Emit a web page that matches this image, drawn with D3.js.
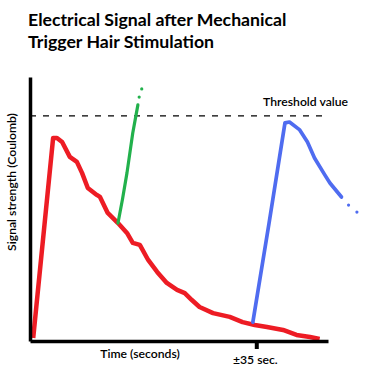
<!DOCTYPE html>
<html>
<head>
<meta charset="utf-8">
<script src="https://cdn.jsdelivr.net/npm/d3@7"></script>
<style>
  body { margin: 0; background: #fff; }
  text { font-family: Lato, "Open Sans", sans-serif; fill: #000; }
</style>
</head>
<body>
<div class="container"></div>
<script>
// signal readings, time in seconds, signal in arbitrary units (threshold = 100)
var redTime   = [0.5, 3.6, 4.2, 5.0, 6.2, 7.3, 8.1, 9.0, 10.4, 10.9, 12.1, 13.7, 15.1, 16.0, 17.1, 18.4, 19.8, 21.3, 22.9, 24.1, 25.2, 26.4, 28.5, 31.1, 33.1, 35.0, 36.9, 39.4, 41.5, 43.6, 45.1];
var redSignal = [1.3, 90.2, 90.2, 88.4, 81.8, 79.6, 74.7, 68.0, 64.9, 64.0, 56.9, 52.4, 48.0, 43.6, 42.7, 36.0, 30.7, 25.8, 22.7, 21.3, 18.2, 15.1, 12.4, 10.7, 8.4, 7.1, 6.2, 4.9, 2.7, 1.8, 0.9];

var greenTime   = [13.7, 14.4, 15.1, 16.0, 16.8];
var greenSignal = [52.4, 63.0, 74.7, 92.4, 104.9];
var greenDotTime   = [17.0, 17.4];
var greenDotSignal = [108.4, 112.0];

var blueTime   = [34.7, 37.2, 39.7, 40.4, 42.0, 43.2, 44.3, 45.9, 46.7, 48.5];
var blueSignal = [8.4, 52.0, 96.9, 97.3, 93.8, 88.4, 81.3, 73.8, 70.2, 64.0];
var blueDotTime   = [49.6, 50.9];
var blueDotSignal = [60.4, 57.3];

var threshold = 100;
var tickTimes = [35];
var tickLabels = ["\u00b135 sec."];

var w = 386;
var h = 387;

var svg = d3.select(".container")
    .append("svg")
    .attr("width", w)
    .attr("height", h);

var x = d3.scaleLinear()
    .domain([0, 46.4])
    .range([30, 328]);

var y = d3.scaleLinear()
    .domain([0, 117.3])
    .range([341, 77]);

function pairs(a, b) {
    return a.map(function(d, i) { return [d, b[i]]; });
}

// title
svg.append("text")
    .attr("x", 28).attr("y", 26)
    .attr("font-size", "17.7px").attr("font-weight", "bold")
    .text("Electrical Signal after Mechanical");
svg.append("text")
    .attr("x", 28).attr("y", 48)
    .attr("font-size", "17.7px").attr("font-weight", "bold")
    .text("Trigger Hair Stimulation");

// threshold
svg.append("line")
    .attr("x1", x(0)).attr("x2", x(46.4))
    .attr("y1", y(threshold)).attr("y2", y(threshold))
    .attr("stroke", "#000")
    .attr("stroke-width", 1.2)
    .attr("stroke-dasharray", "6,7");

svg.append("text")
    .attr("x", 263).attr("y", 106)
    .attr("font-size", "12.2px").attr("font-weight", 600)
    .text("Threshold value");

var line = d3.line()
    .x(function(d) { return x(d[0]); })
    .y(function(d) { return y(d[1]); });

svg.append("path")
    .attr("d", line(pairs(redTime, redSignal)))
    .attr("fill", "none")
    .attr("stroke", "#ed1c24")
    .attr("stroke-width", 4.5)
    .attr("stroke-linejoin", "round");

svg.append("path")
    .attr("d", line(pairs(greenTime, greenSignal)))
    .attr("fill", "none")
    .attr("stroke", "#22b14c")
    .attr("stroke-width", 3.2)
    .attr("stroke-linecap", "round")
    .attr("stroke-linejoin", "round");

svg.selectAll("circle.green")
    .data(pairs(greenDotTime, greenDotSignal))
    .enter()
    .append("circle")
    .attr("class", "green")
    .attr("cx", function(d) { return x(d[0]); })
    .attr("cy", function(d) { return y(d[1]); })
    .attr("r", 1.6)
    .attr("fill", "#22b14c");

svg.append("path")
    .attr("d", line(pairs(blueTime, blueSignal)))
    .attr("fill", "none")
    .attr("stroke", "#4f6cf0")
    .attr("stroke-width", 3.7)
    .attr("stroke-linecap", "round")
    .attr("stroke-linejoin", "round");

svg.selectAll("circle.blue")
    .data(pairs(blueDotTime, blueDotSignal))
    .enter()
    .append("circle")
    .attr("class", "blue")
    .attr("cx", function(d) { return x(d[0]); })
    .attr("cy", function(d) { return y(d[1]); })
    .attr("r", 1.6)
    .attr("fill", "#4f6cf0");

// axes
var xAxis = svg.append("g")
    .attr("transform", "translate(0," + y(0) + ")")
    .call(d3.axisBottom(x)
        .tickValues(tickTimes)
        .tickFormat(function(d, i) { return tickLabels[i]; })
        .tickSize(8)
        .tickSizeOuter(0)
        .tickPadding(6));
xAxis.select(".domain").attr("stroke-width", 3.5);
xAxis.selectAll(".tick line").attr("stroke-width", 4).attr("transform", "translate(1.5,0)");
xAxis.selectAll(".tick text")
    .attr("font-size", "12.2px").attr("font-weight", 600)
    .attr("font-family", "Lato, sans-serif")
    .attr("fill", "#000");

var yAxis = svg.append("g")
    .attr("transform", "translate(" + x(0) + ",0)")
    .call(d3.axisLeft(y).tickValues([]).tickSizeOuter(0));
yAxis.select(".domain").attr("stroke-width", 3.5);

// axis titles
svg.append("text")
    .attr("x", 140).attr("y", 358)
    .attr("text-anchor", "middle")
    .attr("font-size", "12.2px").attr("font-weight", 600)
    .text("Time (seconds)");

svg.append("text")
    .attr("transform", "translate(16,182)rotate(-90)")
    .attr("text-anchor", "middle")
    .attr("font-size", "12.2px").attr("font-weight", 600)
    .text("Signal strength (Coulomb)");
</script>
</body>
</html>
